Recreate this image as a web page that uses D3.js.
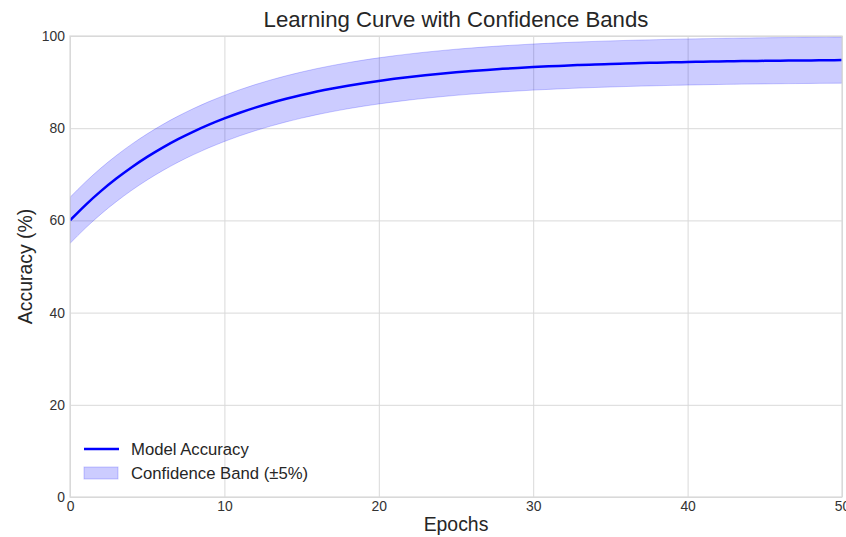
<!DOCTYPE html>
<html>
<head>
<meta charset="utf-8">
<script src="https://cdn.jsdelivr.net/npm/d3@7"></script>
<style>
  body { margin: 0; background: #fff; }
  text { font-family: "Liberation Sans", Arial, sans-serif; fill: #262626; }
</style>
</head>
<body>
<svg width="846" height="537"></svg>
<script>
var svg = d3.select('svg');

// values
var epochs = d3.range(0, 51);
var accuracy = [60.00, 63.33, 66.35, 69.07, 71.54, 73.77, 75.79, 77.62, 79.27, 80.77,
    82.12, 83.35, 84.46, 85.46, 86.37, 87.19, 87.94, 88.61, 89.22, 89.77,
    90.26, 90.71, 91.12, 91.49, 91.82, 92.13, 92.40, 92.65, 92.87, 93.07,
    93.26, 93.42, 93.57, 93.71, 93.83, 93.94, 94.04, 94.13, 94.21, 94.29,
    94.36, 94.42, 94.48, 94.53, 94.57, 94.61, 94.65, 94.68, 94.71, 94.74, 94.77];
var band = 5;
var xTicks = [0, 10, 20, 30, 40, 50];
var yTicks = [0, 20, 40, 60, 80, 100];

var data = epochs.map(function (e, i) {
    return {x: e, y: accuracy[i]};
});

// plot box (window.top is reserved, so use other names)
var pLeft = 70, pRight = 842, pTop = 36, pBottom = 497;

var x = d3.scaleLinear().domain([0, 50]).range([pLeft, pRight]);
var y = d3.scaleLinear().domain([0, 100]).range([pBottom, pTop]);

svg.append("defs").append("clipPath").attr("id", "clip")
    .append("rect")
    .attr("x", pLeft).attr("y", pTop)
    .attr("width", pRight - pLeft).attr("height", pBottom - pTop);

// grid
svg.append("g")
    .attr("transform", "translate(0," + pBottom + ")")
    .call(d3.axisBottom(x).tickValues(xTicks).tickSize(-(pBottom - pTop)).tickFormat(""))
    .call(function (g) {
        g.select(".domain").remove();
        g.selectAll("line").attr("stroke", "#d9d9d9").attr("stroke-width", 1);
    });
svg.append("g")
    .attr("transform", "translate(" + pLeft + ",0)")
    .call(d3.axisLeft(y).tickValues(yTicks).tickSize(-(pRight - pLeft)).tickFormat(""))
    .call(function (g) {
        g.select(".domain").remove();
        g.selectAll("line").attr("stroke", "#d9d9d9").attr("stroke-width", 1);
    });

// band
var area = d3.area()
    .x(function (d) { return x(d.x); })
    .y0(function (d) { return y(d.y - band); })
    .y1(function (d) { return y(d.y + band); })
    .curve(d3.curveMonotoneX);

svg.append("path")
    .datum(data)
    .attr("clip-path", "url(#clip)")
    .attr("d", area)
    .attr("fill", "blue")
    .attr("fill-opacity", 0.2)
    .attr("stroke", "blue")
    .attr("stroke-opacity", 0.2)
    .attr("stroke-width", 1);

// line
var line = d3.line()
    .x(function (d) { return x(d.x); })
    .y(function (d) { return y(d.y); })
    .curve(d3.curveMonotoneX);

svg.append("path")
    .datum(data)
    .attr("clip-path", "url(#clip)")
    .attr("d", line)
    .attr("fill", "none")
    .attr("stroke", "blue")
    .attr("stroke-width", 2.5);

// frame
svg.append("rect")
    .attr("x", pLeft).attr("y", pTop)
    .attr("width", pRight - pLeft).attr("height", pBottom - pTop)
    .attr("fill", "none")
    .attr("stroke", "#d9d9d9")
    .attr("stroke-width", 1.2);

// tick labels
svg.append("g")
    .attr("transform", "translate(0," + pBottom + ")")
    .call(d3.axisBottom(x).tickValues(xTicks).tickSize(0).tickPadding(4))
    .call(function (g) {
        g.select(".domain").remove();
        g.selectAll("text").attr("font-size", 13.9).style("fill", "#333");
    });
svg.append("g")
    .attr("transform", "translate(" + pLeft + ",0)")
    .call(d3.axisLeft(y).tickValues(yTicks).tickSize(0).tickPadding(5))
    .call(function (g) {
        g.select(".domain").remove();
        g.selectAll("text").attr("font-size", 13.9).style("fill", "#333");
    });

// title and labels
svg.append("text")
    .attr("x", (pLeft + pRight) / 2).attr("y", 27)
    .attr("text-anchor", "middle")
    .attr("font-size", 22.2)
    .text("Learning Curve with Confidence Bands");

svg.append("text")
    .attr("x", (pLeft + pRight) / 2).attr("y", 531)
    .attr("text-anchor", "middle")
    .attr("font-size", 19.4)
    .text("Epochs");

svg.append("text")
    .attr("transform", "translate(32," + (pTop + pBottom) / 2 + ") rotate(-90)")
    .attr("text-anchor", "middle")
    .attr("font-size", 19.4)
    .text("Accuracy (%)");

// legend
var legend = svg.append("g");
legend.append("line")
    .attr("x1", 84).attr("x2", 119)
    .attr("y1", 449).attr("y2", 449)
    .attr("stroke", "blue").attr("stroke-width", 2.5);
legend.append("text")
    .attr("x", 131).attr("y", 455)
    .attr("font-size", 16.7)
    .text("Model Accuracy");
legend.append("rect")
    .attr("x", 84).attr("y", 467)
    .attr("width", 34).attr("height", 12)
    .attr("fill", "blue").attr("fill-opacity", 0.2)
    .attr("stroke", "blue").attr("stroke-opacity", 0.2);
legend.append("text")
    .attr("x", 131).attr("y", 479)
    .attr("font-size", 16.7)
    .text("Confidence Band (±5%)");
</script>
</body>
</html>
